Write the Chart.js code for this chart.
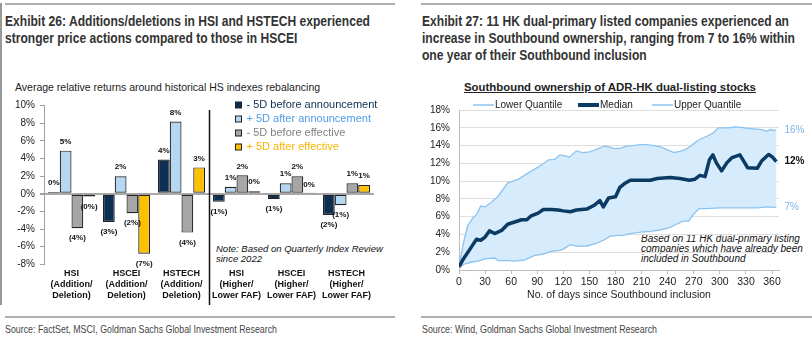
<!DOCTYPE html>
<html>
<head>
<meta charset="utf-8">
<script src="https://cdn.jsdelivr.net/npm/chart.js@4/dist/chart.umd.min.js"></script>
<style>
  html, body { margin: 0; padding: 0; background: #fff; }
  #page { position: relative; width: 812px; height: 344px; overflow: hidden; font-family: "Liberation Sans", Arial, sans-serif; color: #222; }
  .abs { position: absolute; white-space: nowrap; }
  .exh { font-weight: bold; font-size: 15.5px; line-height: 17px; color: #333; transform-origin: 0 0; }
  .src { font-size: 11.5px; line-height: 14px; color: #444; transform-origin: 0 0; }
  .rule { background: #b0b0b0; height: 2px; }
  .note { font-style: italic; font-size: 9.5px; line-height: 10px; color: #111; }
  canvas { position: absolute; }
</style>
</head>
<body>
<div id="page">
  <!-- frame rules -->
  <div class="abs rule" style="left:5px;top:3px;width:390px;"></div>
  <div class="abs rule" style="left:421px;top:3px;width:391px;"></div>
  <div class="abs" style="left:0;top:3px;width:2px;height:302px;background:#999;"></div>
  <div class="abs rule" style="left:5px;top:316px;width:390px;"></div>
  <div class="abs rule" style="left:421px;top:316px;width:391px;"></div>

  <!-- left exhibit -->
  <div id="titleL" class="abs exh" data-fit="365" style="left:5px;top:12px;"><span>Exhibit 26: Additions/deletions in HSI and HSTECH experienced</span><br><span>stronger price actions compared to those in HSCEI</span></div>
  <div class="abs" style="left:15px;top:81px;font-size:10.5px;line-height:12px;">Average relative returns around historical HS indexes rebalancing</div>
  <div class="abs note" style="left:216px;top:244px;">Note: Based on Quarterly Index Review<br>since 2022</div>
  <div id="srcL" class="abs src" data-fit="272" style="left:5px;top:322px;"><span>Source: FactSet, MSCI, Goldman Sachs Global Investment Research</span></div>

  <!-- right exhibit -->
  <div id="titleR" class="abs exh" data-fit="367" style="left:422px;top:12px;"><span>Exhibit 27: 11 HK dual-primary listed companies experienced an</span><br><span>increase in Southbound ownership, ranging from 7 to 16% within</span><br><span>one year of their Southbound inclusion</span></div>
  <div class="abs" style="left:464px;top:81px;font-size:11.4px;line-height:13px;font-weight:bold;text-decoration:underline;">Southbound ownership of ADR-HK dual-listing stocks</div>
  <div class="abs note" style="left:641px;top:234px;font-size:10px;">Based on 11 HK dual-primary listing<br>companies which have already been<br>included in Southbound</div>
  <div id="srcR" class="abs src" data-fit="235" style="left:422px;top:322px;"><span>Source: Wind, Goldman Sachs Global Investment Research</span></div>

  <canvas id="bars" width="400" height="220" style="left:0;top:90px;"></canvas>
  <canvas id="lines" width="402" height="215" style="left:410px;top:95px;"></canvas>
</div>

<script>
// ---- Exhibit 26: average relative returns (%) ----
const categories = [
  ['HSI', '(Addition/', 'Deletion)'],
  ['HSCEI', '(Addition/', 'Deletion)'],
  ['HSTECH', '(Addition/', 'Deletion)'],
  ['HSI', '(Higher/', 'Lower FAF)'],
  ['HSCEI', '(Higher/', 'Lower FAF)'],
  ['HSTECH', '(Higher/', 'Lower FAF)']
];
const seriesNames = ['- 5D before announcement', '+ 5D after announcement', '- 5D before effective', '+ 5D after effective'];
const beforeAnnouncement = [0.2, -3.2, 3.9, -0.9, -0.6, -2.4];
const afterAnnouncement  = [4.9, 2.0, 8.2, 0.8, 1.2, -1.3];
const beforeEffective    = [-3.9, -2.2, -4.4, 2.1, 2.0, 1.2];
const afterEffective     = [-0.3, -6.8, 3.0, 0.3, 0.05, 1.0];
const returnTicks = [-8, -6, -4, -2, 0, 2, 4, 6, 8, 10];

// ---- Exhibit 27: Southbound ownership (%) by days since inclusion ----
const lowerDays   = [0, 7, 15, 22, 30, 41, 45, 56, 64, 76, 87, 97, 106, 116, 120, 128, 137, 147, 158, 166, 174, 182, 189, 197, 209, 220, 231, 243, 250, 258, 264, 270, 276, 285, 300, 323, 343, 354, 365];
const lowerValues = [0.35, 0.7, 0.9, 1.0, 1.25, 1.35, 1.05, 1.05, 1.0, 1.15, 1.65, 1.8, 2.1, 2.2, 2.35, 2.85, 2.65, 2.7, 3.0, 3.35, 3.8, 3.9, 3.9, 4.1, 4.25, 4.35, 4.5, 4.8, 5.15, 5.5, 5.5, 6.3, 6.9, 6.9, 7.0, 7.0, 7.0, 7.1, 7.05];
const medianDays   = [0, 5, 11, 16, 20, 25, 30, 35, 41, 49, 56, 64, 72, 78, 83, 91, 97, 106, 114, 120, 128, 135, 147, 155, 162, 166, 172, 180, 185, 190, 197, 209, 220, 228, 243, 254, 265, 271, 277, 283, 288, 292, 296, 302, 308, 314, 323, 332, 343, 348, 356, 360, 365];
const medianValues = [0.35, 1.25, 2.1, 2.85, 3.45, 3.35, 3.7, 4.4, 4.1, 4.45, 5.15, 5.4, 5.65, 5.65, 6.1, 6.4, 6.8, 6.8, 6.75, 6.65, 6.55, 6.75, 6.85, 7.25, 7.8, 7.1, 8.1, 8.25, 9.3, 9.7, 10.1, 10.1, 10.1, 10.3, 10.4, 10.3, 10.1, 10.2, 10.65, 10.5, 12.4, 12.95, 12.05, 11.15, 12.05, 12.65, 12.95, 11.5, 11.45, 12.25, 13.0, 12.75, 12.2];
const upperDays   = [0, 5, 10, 16, 20, 25, 30, 37, 45, 56, 68, 76, 87, 96, 103, 110, 116, 122, 127, 135, 142, 150, 156, 162, 168, 174, 180, 186, 193, 200, 208, 216, 224, 232, 239, 247, 254, 260, 266, 271, 276, 285, 292, 298, 304, 310, 317, 324, 330, 336, 342, 348, 354, 358, 362, 365];
const upperValues = [0.35, 3.0, 5.0, 5.85, 6.2, 7.2, 7.1, 7.6, 8.3, 9.8, 10.2, 10.7, 11.35, 11.9, 12.4, 12.45, 12.95, 12.85, 12.7, 13.4, 13.2, 13.3, 13.5, 13.75, 13.95, 13.8, 13.65, 13.7, 13.95, 14.0, 14.1, 14.1, 14.0, 13.85, 13.55, 13.2, 13.35, 13.55, 13.9, 14.3, 14.65, 15.05, 15.4, 16.0, 16.0, 16.0, 16.1, 16.05, 15.95, 15.9, 15.85, 15.8, 15.6, 15.8, 15.7, 15.7];
const dayTicks = [0, 30, 60, 90, 120, 150, 180, 210, 240, 270, 300, 330, 360];
const ownershipTicks = [0, 2, 4, 6, 8, 10, 12, 14, 16, 18];

// Condensed headings: squeeze each block so its first line spans the set width
document.querySelectorAll('[data-fit]').forEach(el => {
  const first = el.querySelector('span');
  const w = first.getBoundingClientRect().width;
  el.style.transform = 'scaleX(' + (parseFloat(el.dataset.fit) / w) + ')';
});

const FONT = '"Liberation Sans", Arial, sans-serif';
const pairs = (xs, ys) => xs.map((x, i) => ({ x: x, y: ys[i] }));
const pctParen = v => v >= 0 ? Math.round(v) + '%' : '(' + Math.round(-v) + '%)';

// ---------- bar chart ----------
const barFill   = ['#0c2f52', '#b5d7f1', '#a6a6a6', '#ffc000'];
const legendInk = ['#0c2f52', '#4f9be6', '#808080', '#f7b500'];
const barSeries = [beforeAnnouncement, afterAnnouncement, beforeEffective, afterEffective];

const barDecor = {
  id: 'barDecor',
  afterDatasetsDraw(chart) {
    const ctx = chart.ctx;
    ctx.save();
    ctx.font = 'bold 8px ' + FONT;
    ctx.fillStyle = '#111';
    ctx.textAlign = 'center';
    ctx.textBaseline = 'middle';
    chart.data.datasets.forEach((ds, i) => {
      chart.getDatasetMeta(i).data.forEach((bar, j) => {
        const v = ds.data[j];
        ctx.fillText(pctParen(v), bar.x, v >= 0 ? bar.y - 9 : bar.y + 10);
      });
    });
    ctx.restore();
  },
  afterDraw(chart) {
    const ctx = chart.ctx;
    const x = Math.round(chart.scales.x.getPixelForValue(2.5)) + 0.5;
    ctx.save();
    ctx.strokeStyle = '#111';
    ctx.lineWidth = 1.5;
    ctx.beginPath();
    ctx.moveTo(x, 20);
    ctx.lineTo(x, 215);
    ctx.stroke();
    // legend
    ctx.font = '11px ' + FONT;
    ctx.textBaseline = 'middle';
    ctx.textAlign = 'left';
    chart.data.datasets.forEach((ds, i) => {
      const y = 15 + i * 14;
      ctx.fillStyle = ds.backgroundColor;
      ctx.fillRect(235.5, y - 3, 6, 6);
      ctx.strokeStyle = '#222';
      ctx.lineWidth = 1;
      ctx.strokeRect(235.5, y - 3, 6, 6);
      ctx.fillStyle = legendInk[i];
      ctx.fillText(ds.label, 246.5, y);
    });
    ctx.restore();
  }
};

new Chart(document.getElementById('bars'), {
  type: 'bar',
  data: {
    labels: categories,
    datasets: barSeries.map((d, i) => ({
      label: seriesNames[i],
      data: d,
      backgroundColor: barFill[i],
      borderColor: '#222',
      borderWidth: 1.2,
      borderSkipped: false,
      categoryPercentage: 0.855,
      barPercentage: 1
    }))
  },
  options: {
    responsive: false,
    devicePixelRatio: 1,
    animation: false,
    layout: { padding: { top: 15.7, right: 26, left: 0, bottom: 0 } },
    plugins: { legend: { display: false }, tooltip: { enabled: false } },
    scales: {
      x: {
        afterFit: s => { s.height = 45.7; },
        grid: { display: false, drawTicks: false },
        border: { display: false },
        ticks: { color: '#111', padding: 4, maxRotation: 0, autoSkip: false, font: { family: FONT, size: 9, weight: 'bold', lineHeight: '11px' } }
      },
      y: {
        min: -8, max: 10,
        afterFit: s => { s.width = 44; },
        afterBuildTicks: s => { s.ticks = returnTicks.map(v => ({ value: v })); },
        grid: {
          drawOnChartArea: true,
          color: c => (c.tick && c.tick.value === 0) ? '#a8a8a8' : 'rgba(0,0,0,0)',
          lineWidth: c => (c.tick && c.tick.value === 0) ? 2 : 1,
          tickColor: '#a0a0a0',
          tickLength: 4
        },
        border: { display: true, color: '#a0a0a0', width: 1 },
        ticks: { color: '#222', padding: 5, font: { family: FONT, size: 10 }, callback: v => v + '%' }
      }
    }
  },
  plugins: [barDecor]
});

// ---------- line chart ----------
const lightLine = '#8cc3ef';
const bandFill  = '#d6ebfc';
const darkLine  = '#0b3a63';

const lineDecor = {
  id: 'lineDecor',
  afterDatasetsDraw(chart) {
    const ctx = chart.ctx;
    ctx.save();
    ctx.textBaseline = 'middle';
    ctx.textAlign = 'left';
    chart.data.datasets.forEach((ds, i) => {
      const pts = chart.getDatasetMeta(i).data;
      const last = pts[pts.length - 1];
      const v = ds.data[ds.data.length - 1].y;
      ctx.font = (i === 0 ? 'bold ' : '') + '10px ' + FONT;
      ctx.fillStyle = i === 0 ? '#111' : '#7fb3e6';
      ctx.fillText(Math.round(v) + '%', last.x + 8, last.y);
    });
    ctx.restore();
  },
  afterDraw(chart) {
    const ctx = chart.ctx;
    const items = [
      { label: 'Lower Quantile', color: lightLine, w: 1.5, x: 63 },
      { label: 'Median', color: darkLine, w: 4, x: 168 },
      { label: 'Upper Quantile', color: lightLine, w: 1.5, x: 242 }
    ];
    ctx.save();
    ctx.font = '10px ' + FONT;
    ctx.textBaseline = 'middle';
    items.forEach(it => {
      ctx.strokeStyle = it.color;
      ctx.lineWidth = it.w;
      ctx.beginPath();
      ctx.moveTo(it.x, 10);
      ctx.lineTo(it.x + 21, 10);
      ctx.stroke();
      ctx.fillStyle = '#222';
      ctx.fillText(it.label, it.x + 22, 10);
    });
    ctx.restore();
  }
};

new Chart(document.getElementById('lines'), {
  type: 'line',
  data: {
    datasets: [
      { label: 'Median', data: pairs(medianDays, medianValues), borderColor: darkLine, borderWidth: 3.5, pointRadius: 0, tension: 0, fill: false, borderJoinStyle: 'round' },
      { label: 'Lower Quantile', data: pairs(lowerDays, lowerValues), borderColor: lightLine, borderWidth: 1.3, pointRadius: 0, tension: 0, fill: false },
      { label: 'Upper Quantile', data: pairs(upperDays, upperValues), borderColor: lightLine, borderWidth: 1.3, pointRadius: 0, tension: 0, fill: 1, backgroundColor: bandFill }
    ]
  },
  options: {
    responsive: false,
    devicePixelRatio: 1,
    animation: false,
    layout: { padding: { top: 6.3, right: 33, left: 0, bottom: 0 } },
    plugins: { legend: { display: false }, tooltip: { enabled: false } },
    scales: {
      x: {
        type: 'linear', min: 0, max: 368,
        afterFit: s => { s.height = 40; },
        afterBuildTicks: s => { s.ticks = dayTicks.map(v => ({ value: v })); },
        grid: { drawOnChartArea: false, drawTicks: true, tickLength: 4, tickColor: '#bdbdbd' },
        border: { display: true, color: '#bdbdbd', width: 1 },
        ticks: { color: '#222', padding: 2, maxRotation: 0, font: { family: FONT, size: 10.5 } },
        title: { display: true, text: 'No. of days since Southbound inclusion', color: '#222', font: { family: FONT, size: 10.5 }, padding: { top: 0, bottom: 8.7 } }
      },
      y: {
        min: 0, max: 18,
        afterFit: s => { s.width = 49; },
        afterBuildTicks: s => { s.ticks = ownershipTicks.map(v => ({ value: v })); },
        grid: { drawTicks: false, color: c => (c.tick && c.tick.value === 0) ? 'rgba(0,0,0,0)' : '#dedede' },
        border: { display: true, color: '#bdbdbd', width: 1 },
        ticks: { color: '#222', padding: 9, font: { family: FONT, size: 10 }, callback: v => v + '%' }
      }
    }
  },
  plugins: [lineDecor]
});
</script>
</body>
</html>
